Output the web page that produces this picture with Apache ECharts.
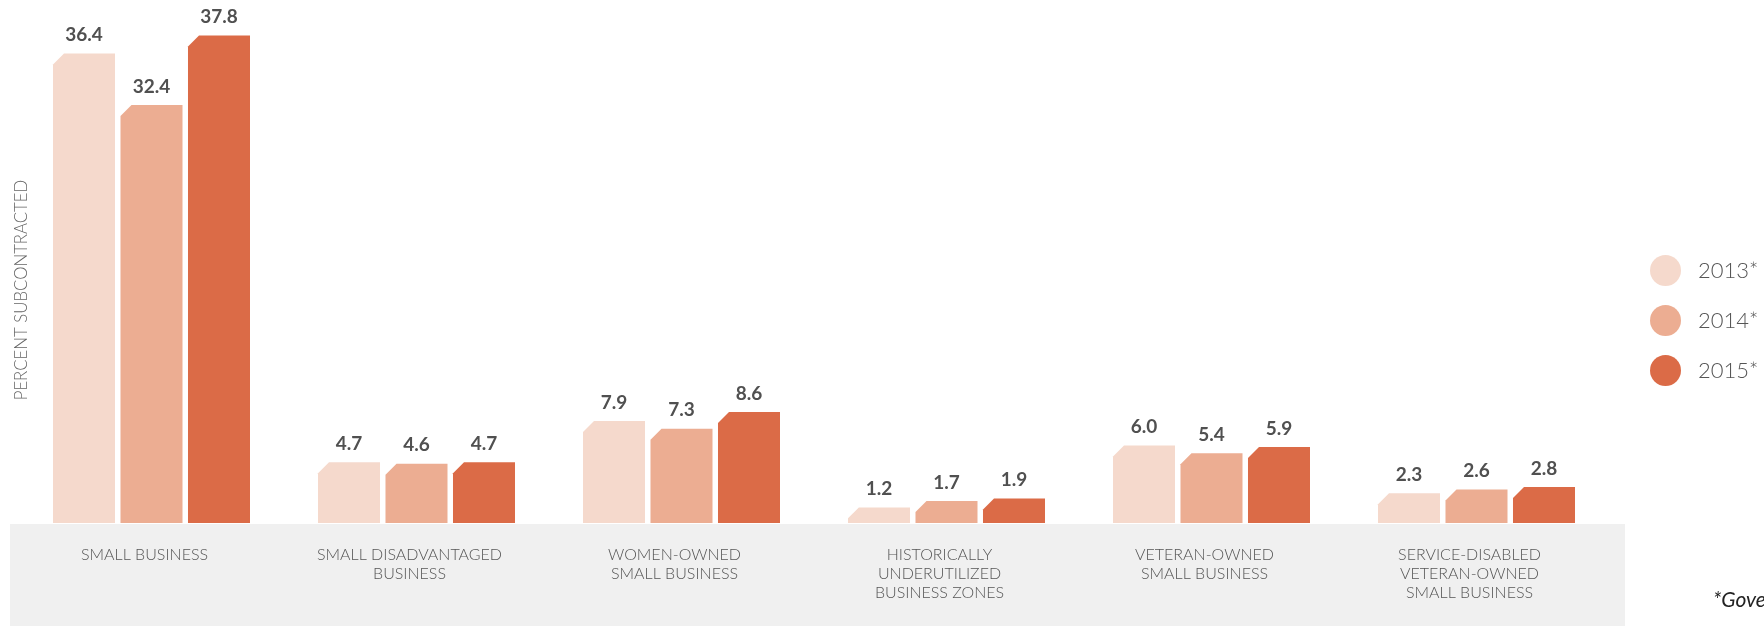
<!DOCTYPE html>
<html lang="en">
<head>
    <meta charset="UTF-8">
    <title>Percent Subcontracted</title>
    <style>
        html, body { margin: 0; padding: 0; background: #fff; }
        #main { width: 1764px; height: 626px; }
    </style>
</head>
<body>
<div id="main"></div>
<script src="https://cdn.jsdelivr.net/npm/echarts@6/dist/echarts.min.js"></script>
<script>
    const myChart = echarts.init(document.getElementById('main'));

    // categories
    const categories = [
        'SMALL BUSINESS',
        'SMALL DISADVANTAGED\nBUSINESS',
        'WOMEN-OWNED\nSMALL BUSINESS',
        'HISTORICALLY\nUNDERUTILIZED\nBUSINESS ZONES',
        'VETERAN-OWNED\nSMALL BUSINESS',
        'SERVICE-DISABLED\nVETERAN-OWNED\nSMALL BUSINESS'
    ];

    // series values
    const years = ['2013*', '2014*', '2015*'];
    const values2013 = [36.4, 4.7, 7.9, 1.2, 6.0, 2.3];
    const values2014 = [32.4, 4.6, 7.3, 1.7, 5.4, 2.6];
    const values2015 = [37.8, 4.7, 8.6, 1.9, 5.9, 2.8];

    const colors = ['#f5d9cc', '#ecad92', '#db6b47'];
    const font = 'Lato';

    // bar with a cut top-left corner
    function chamferBar(idx) {
        return function (params, api) {
            const base = api.coord([api.value(0), 0]);
            const top = api.coord([api.value(0), api.value(1)]);
            const band = api.size([1, 0])[0];
            const w = band * 0.234;
            const step = band * 0.2547;
            const x0 = base[0] + (idx - 1) * step - w / 2;
            const x1 = x0 + w;
            const c = Math.min(11, (base[1] - top[1]) * 0.7);
            return {
                type: 'polygon',
                shape: {
                    points: [[x0, base[1]], [x0, top[1] + c], [x0 + c, top[1]], [x1, top[1]], [x1, base[1]]]
                },
                style: { fill: colors[idx] },
                textContent: {
                    style: {
                        text: api.value(1).toFixed(1),
                        fill: '#505050',
                        fontSize: 19,
                        fontWeight: 'bold',
                        fontFamily: font
                    }
                },
                textConfig: { position: 'top', distance: 9 }
            };
        };
    }

    const lists = [values2013, values2014, values2015];

    const option = {
        animation: false,
        grid: { left: 19, right: 155, top: 7, bottom: 103 },
        legend: {
            orient: 'vertical',
            left: 1645,
            top: 250,
            icon: 'circle',
            itemWidth: 31,
            itemHeight: 31,
            itemGap: 19,
            textStyle: { fontSize: 22, color: '#555', fontFamily: font, fontWeight: 300, padding: [0, 0, 0, 12] },
            data: years
        },
        xAxis: {
            type: 'category',
            data: categories,
            axisLine: { show: false },
            axisTick: { show: false },
            axisLabel: {
                color: '#555',
                fontSize: 16,
                lineHeight: 19,
                fontFamily: font,
                fontWeight: 300,
                margin: 22,
                padding: [0, 14, 0, 0],
                interval: 0
            }
        },
        yAxis: {
            type: 'value',
            min: 0,
            max: 40,
            show: false
        },
        graphic: [
            {
                type: 'rect',
                z: -10,
                shape: { x: 10, y: 524, width: 1615, height: 102 },
                style: { fill: '#f0f0f0' }
            },
            {
                type: 'text',
                x: 22,
                y: 290,
                rotation: Math.PI / 2,
                style: {
                    text: 'PERCENT SUBCONTRACTED',
                    fill: '#666',
                    fontSize: 16.8,
                    fontFamily: font,
                    fontWeight: 300,
                    align: 'center',
                    verticalAlign: 'middle'
                }
            },
            {
                type: 'text',
                x: 1713,
                y: 600,
                style: {
                    text: '*Government data',
                    fill: '#222',
                    fontSize: 21,
                    fontStyle: 'italic',
                    fontFamily: font,
                    verticalAlign: 'middle'
                }
            }
        ],
        series: years.map((name, i) => ({
            name,
            type: 'custom',
            itemStyle: { color: colors[i] },
            renderItem: chamferBar(i),
            encode: { x: 0, y: 1 },
            data: lists[i].map((v, k) => [k, v])
        }))
    };

    myChart.setOption(option);
</script>
</body>
</html>
